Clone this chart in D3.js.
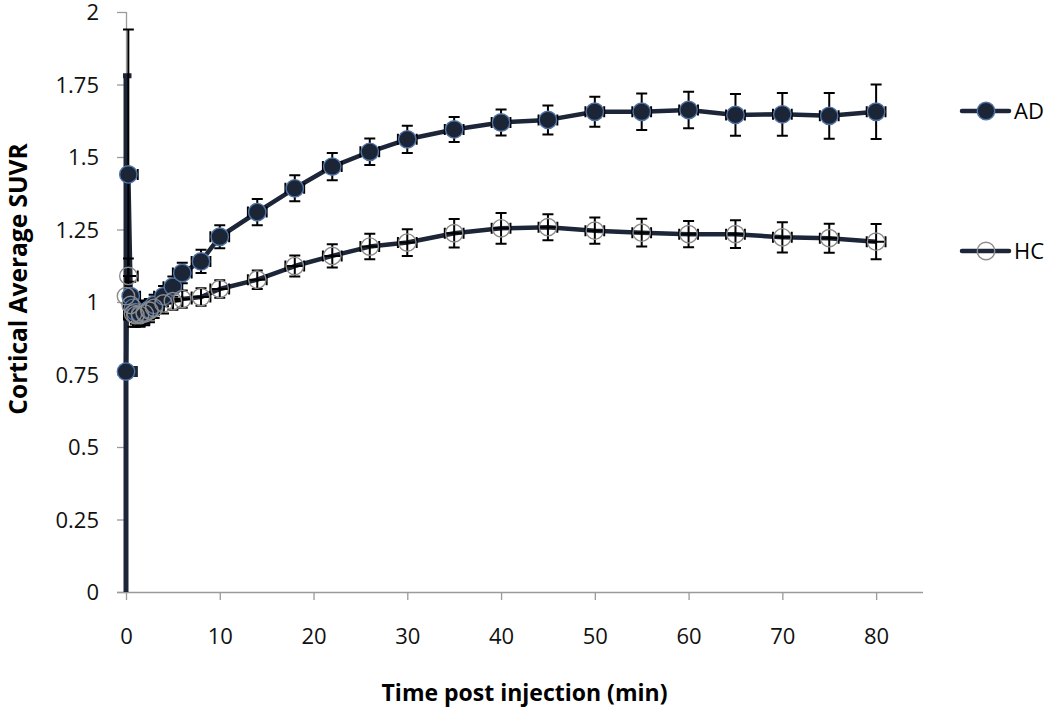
<!DOCTYPE html>
<html>
<head>
<meta charset="utf-8">
<script src="https://cdn.jsdelivr.net/npm/d3@7"></script>
<style>
  html, body { margin: 0; padding: 0; background: #ffffff; }
  svg { display: block; }
</style>
</head>
<body>
<svg id="chart" width="1050" height="711"></svg>
<script>
// ---- data ----
const times = [0, 0.25, 0.5, 0.75, 1, 1.5, 2, 2.5, 3, 4, 5, 6, 8, 10, 14, 18, 22, 26, 30, 35, 40, 45, 50, 55, 60, 65, 70, 75, 80];
const adMean = [0.76, 1.44, 1.02, 0.98, 0.965, 0.96, 0.965, 0.975, 0.99, 1.02, 1.053, 1.10, 1.14, 1.225, 1.31, 1.392, 1.467, 1.518, 1.561, 1.595, 1.619, 1.628, 1.656, 1.656, 1.662, 1.645, 1.647, 1.642, 1.656];
const adErr = [1.02, 0.5, 0.05, 0.04, 0.04, 0.04, 0.04, 0.035, 0.035, 0.035, 0.035, 0.035, 0.04, 0.04, 0.045, 0.045, 0.047, 0.046, 0.047, 0.043, 0.045, 0.05, 0.052, 0.063, 0.063, 0.072, 0.074, 0.079, 0.094];
const hcMean = [1.02, 1.09, 0.99, 0.96, 0.955, 0.955, 0.96, 0.97, 0.98, 0.995, 1.003, 1.01, 1.017, 1.045, 1.077, 1.124, 1.159, 1.191, 1.205, 1.237, 1.254, 1.258, 1.246, 1.239, 1.234, 1.234, 1.223, 1.22, 1.208];
const hcErr = [0.07, 0.06, 0.05, 0.045, 0.04, 0.04, 0.04, 0.04, 0.035, 0.035, 0.03, 0.03, 0.03, 0.03, 0.032, 0.036, 0.04, 0.044, 0.046, 0.049, 0.053, 0.045, 0.045, 0.048, 0.045, 0.048, 0.052, 0.05, 0.061];
const timeErr = 1;
const xTicks = [0, 10, 20, 30, 40, 50, 60, 70, 80];
const yTicks = [0, 0.25, 0.5, 0.75, 1, 1.25, 1.5, 1.75, 2];
const seriesNames = ["AD", "HC"];
const xTitle = "Time post injection (min)";
const yTitle = "Cortical Average SUVR";

// ---- layout ----
const svg = d3.select("#chart");
const x = d3.scaleLinear().domain([0, 85]).range([126, 923]);
const y = d3.scaleLinear().domain([0, 2]).range([592, 12]);
const lineColor = "#1c2638";
const axisColor = "#9a9a9a";
const font = "'Open Sans', sans-serif";

const series = [
  { name: seriesNames[0], mean: adMean, err: adErr, fill: "#1b2536", stroke: "#4f74a8" },
  { name: seriesNames[1], mean: hcMean, err: hcErr, fill: "none", stroke: "#8c8c8c" }
];
series.forEach(s => { s.pts = times.map((t, i) => ({ t, v: s.mean[i], e: s.err[i] })); });

// clip for error bars (plot area, with a little slack at the left for the bar on the axis)
svg.append("defs").append("clipPath").attr("id", "plotclip")
  .append("rect").attr("x", x(0) - 3).attr("y", y(2)).attr("width", 1050 - x(0)).attr("height", y(0) - y(2));

// axes
const yAxis = svg.append("g").attr("transform", `translate(${x(0)},0)`)
  .call(d3.axisLeft(y).tickValues(yTicks).tickSize(9).tickPadding(18).tickFormat(d3.format("")));
const xAxis = svg.append("g").attr("transform", `translate(0,${y(0)})`)
  .call(d3.axisBottom(x).tickValues(xTicks).tickSize(8).tickPadding(28).tickFormat(d3.format("d")));
[yAxis, xAxis].forEach(g => {
  g.select(".domain").attr("stroke", axisColor).attr("stroke-width", 1.3);
  g.selectAll(".tick line").attr("stroke", axisColor).attr("stroke-width", 1.3);
  g.selectAll(".tick text").attr("fill", "#111").style("font-family", font).style("font-size", "22px");
});
xAxis.select(".domain").attr("d", `M${x(0) - 9},0.5H${x(85)}`);
yAxis.select(".domain").attr("d", `M0.5,${y(2)}V${y(0)}`);
yAxis.selectAll(".tick text").attr("dy", "0.36em");

// titles
svg.append("text").attr("x", (x(0) + x(85)) / 2).attr("y", 701)
  .attr("text-anchor", "middle").style("font-family", font).style("font-weight", "bold")
  .style("font-size", "23px").attr("fill", "#000").text(xTitle);
svg.append("text").attr("transform", `translate(27,279) rotate(-90)`)
  .attr("text-anchor", "middle").style("font-family", font).style("font-weight", "bold")
  .style("font-size", "24.5px").attr("fill", "#000").text(yTitle);

// series lines
const line = d3.line().x(d => x(d.t)).y(d => y(d.v));
const linesG = svg.append("g");
series.slice().reverse().forEach(s => {
  linesG.append("path").datum(s.pts).attr("d", line).attr("fill", "none")
    .attr("stroke", lineColor).attr("stroke-width", 4.5).attr("stroke-linejoin", "round");
});

// error bars
const errG = svg.append("g").attr("clip-path", "url(#plotclip)").attr("fill", "none");
const capW = 5.5;
series.forEach(s => {
  s.pts.forEach(p => {
    const cx = x(p.t), cy = y(p.v);
    const y1 = y(p.v + p.e), y2 = y(p.v - p.e);
    const x1 = x(p.t - timeErr), x2 = x(p.t + timeErr);
    const big = p.e > 1;
    errG.append("path").attr("d",
      `M${cx},${y1}V${y2}` +
      `M${cx - capW},${y1}H${cx + capW}` +
      `M${cx - capW},${y2}H${cx + capW}` +
      `M${x1},${cy}H${x2}` +
      `M${x1},${cy - capW}V${cy + capW}` +
      `M${x2},${cy - capW}V${cy + capW}`)
      .attr("stroke", big ? lineColor : "#000")
      .attr("stroke-width", big ? 5 : 2);
  });
});

// markers
series.forEach(s => {
  svg.append("g").selectAll("circle").data(s.pts).join("circle")
    .attr("cx", d => x(d.t)).attr("cy", d => y(d.v)).attr("r", 8.7)
    .attr("fill", s.fill).attr("stroke", s.stroke).attr("stroke-width", 1.4);
});

// legend
const legendY = [111, 251];
series.forEach((s, i) => {
  const g = svg.append("g").attr("transform", `translate(0,${legendY[i]})`);
  g.append("line").attr("x1", 962).attr("x2", 1009).attr("y1", 0).attr("y2", 0)
    .attr("stroke", lineColor).attr("stroke-width", 4.5).attr("stroke-linecap", "round");
  g.append("circle").attr("cx", 986).attr("cy", 0).attr("r", 8.7)
    .attr("fill", s.fill).attr("stroke", s.stroke).attr("stroke-width", 1.4);
  g.append("text").attr("x", 1014).attr("y", 8).style("font-family", font)
    .style("font-size", "22px").attr("fill", "#000").text(s.name);
});
</script>
</body>
</html>
